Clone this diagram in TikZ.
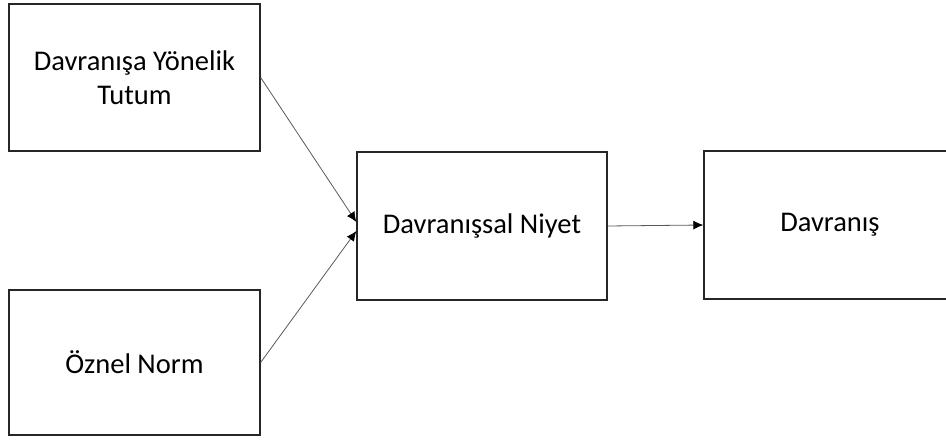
\documentclass[tikz,border=0pt]{standalone}
\usepackage{fontspec}
\setmainfont{Carlito}
\usetikzlibrary{arrows.meta}

\begin{document}
\begin{tikzpicture}[x=1pt, y=-1pt]
\tikzset{box/.style = {rectangle, draw=black!85, line width=1.3pt, align=center, font=\fontsize{28.5}{34}\selectfont, inner sep=0pt}}
\tikzset{edge/.style = {-{Latex[length=10pt,width=9pt,color=black]}, draw=black!65, line width=.8pt}}

\useasboundingbox (0, 0) rectangle (946, 443);

\node[box, minimum width=251pt, minimum height=147pt] (tutum) at (134.5, 77.5) {Davranışa Yönelik\\Tutum};
\node[box, minimum width=251pt, minimum height=145pt] (norm) at (134.5, 362.5) {Öznel Norm};
\node[box, minimum width=250pt, minimum height=148pt] (niyet) at (482, 226) {Davranışsal Niyet};
\node[box, minimum width=252pt, minimum height=148pt] (davranis) at (830, 225) {Davranış};

\draw[edge] (tutum.east) -- ([yshift=4pt]niyet.west);
\draw[edge] (norm.east) -- ([yshift=-5pt]niyet.west);
\draw[edge] (niyet.east) -- (davranis.west);

\end{tikzpicture}
\end{document}
